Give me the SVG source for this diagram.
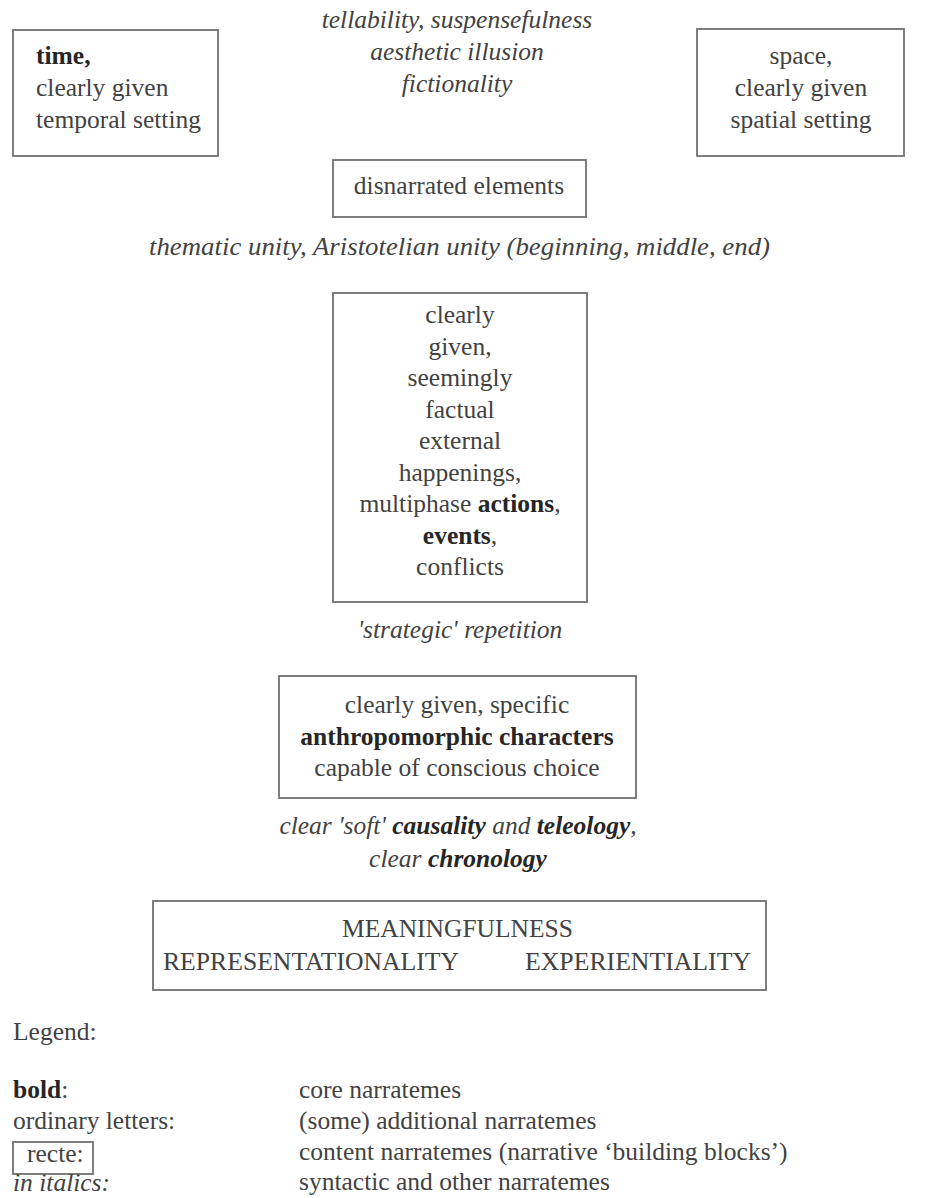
<svg xmlns="http://www.w3.org/2000/svg" width="945" height="1198" viewBox="0 0 945 1198">
<style>
text{font-family:"Liberation Serif","Times New Roman",serif;font-size:25.5px;fill:#424242}
.c{text-anchor:middle}
.i{font-style:italic}
.b{font-weight:bold;fill:#262626}
.box{fill:none;stroke:#707070;stroke-width:1.8}
.caps{font-size:24.5px}
</style>
<rect width="945" height="1198" fill="#ffffff"/>
<g id="connectors"/>
<g id="time">
<rect class="box" x="13" y="30" width="205" height="126"/>
<text x="36" y="64"><tspan class="b">time,</tspan></text>
<text x="36" y="96">clearly given</text>
<text x="36" y="128">temporal setting</text>
</g>
<g id="top-italics">
<text class="c i" x="457" y="28">tellability, suspensefulness</text>
<text class="c i" x="457" y="60">aesthetic illusion</text>
<text class="c i" x="457" y="92">fictionality</text>
</g>
<g id="space">
<rect class="box" x="697" y="29" width="207" height="127"/>
<text class="c" x="801" y="64">space,</text>
<text class="c" x="801" y="96">clearly given</text>
<text class="c" x="801" y="128">spatial setting</text>
</g>
<g id="disnarrated">
<rect class="box" x="333" y="160" width="253" height="57"/>
<text class="c" x="459" y="194">disnarrated elements</text>
</g>
<g id="thematic">
<text class="i" x="149" y="255" textLength="621" lengthAdjust="spacingAndGlyphs">thematic unity, Aristotelian unity (beginning, middle, end)</text>
</g>
<g id="happenings">
<rect class="box" x="333" y="293" width="254" height="309"/>
<text class="c" x="460" y="323">clearly</text>
<text class="c" x="460" y="354.5">given,</text>
<text class="c" x="460" y="386">seemingly</text>
<text class="c" x="460" y="417.5">factual</text>
<text class="c" x="460" y="449">external</text>
<text class="c" x="460" y="480.5">happenings,</text>
<text class="c" x="460" y="512">multiphase <tspan class="b">actions</tspan>,</text>
<text class="c" x="460" y="543.5"><tspan class="b">events</tspan>,</text>
<text class="c" x="460" y="575">conflicts</text>
</g>
<g id="strategic">
<text class="c i" x="460" y="638">'strategic' repetition</text>
</g>
<g id="characters">
<rect class="box" x="279" y="676" width="357" height="122"/>
<text class="c" x="457" y="713">clearly given, specific</text>
<text class="c b" x="457" y="745">anthropomorphic characters</text>
<text class="c" x="457" y="776">capable of conscious choice</text>
</g>
<g id="causality">
<text class="c i" x="458" y="834">clear 'soft' <tspan class="b">causality</tspan> and <tspan class="b">teleology</tspan>,</text>
<text class="c i" x="458" y="867">clear <tspan class="b">chronology</tspan></text>
</g>
<g id="meaning">
<rect class="box" x="153" y="901" width="613" height="89"/>
<text class="caps" x="342" y="937" textLength="231" lengthAdjust="spacingAndGlyphs">MEANINGFULNESS</text>
<text class="caps" x="163" y="970" textLength="296" lengthAdjust="spacingAndGlyphs">REPRESENTATIONALITY</text>
<text class="caps" x="525" y="970" textLength="226" lengthAdjust="spacingAndGlyphs">EXPERIENTIALITY</text>
</g>
<g id="legend">
<text x="13" y="1040">Legend:</text>
<text x="13" y="1098"><tspan class="b">bold</tspan>:</text>
<text x="13" y="1129">ordinary letters:</text>
<rect class="box" x="13" y="1142" width="80" height="32"/>
<text x="27" y="1162">recte:</text>
<text class="i" x="13" y="1191">in italics:</text>
<text x="299" y="1098">core narratemes</text>
<text x="299" y="1129">(some) additional narratemes</text>
<text x="299" y="1160">content narratemes (narrative ‘building blocks’)</text>
<text x="299" y="1190">syntactic and other narratemes</text>
</g>
</svg>
